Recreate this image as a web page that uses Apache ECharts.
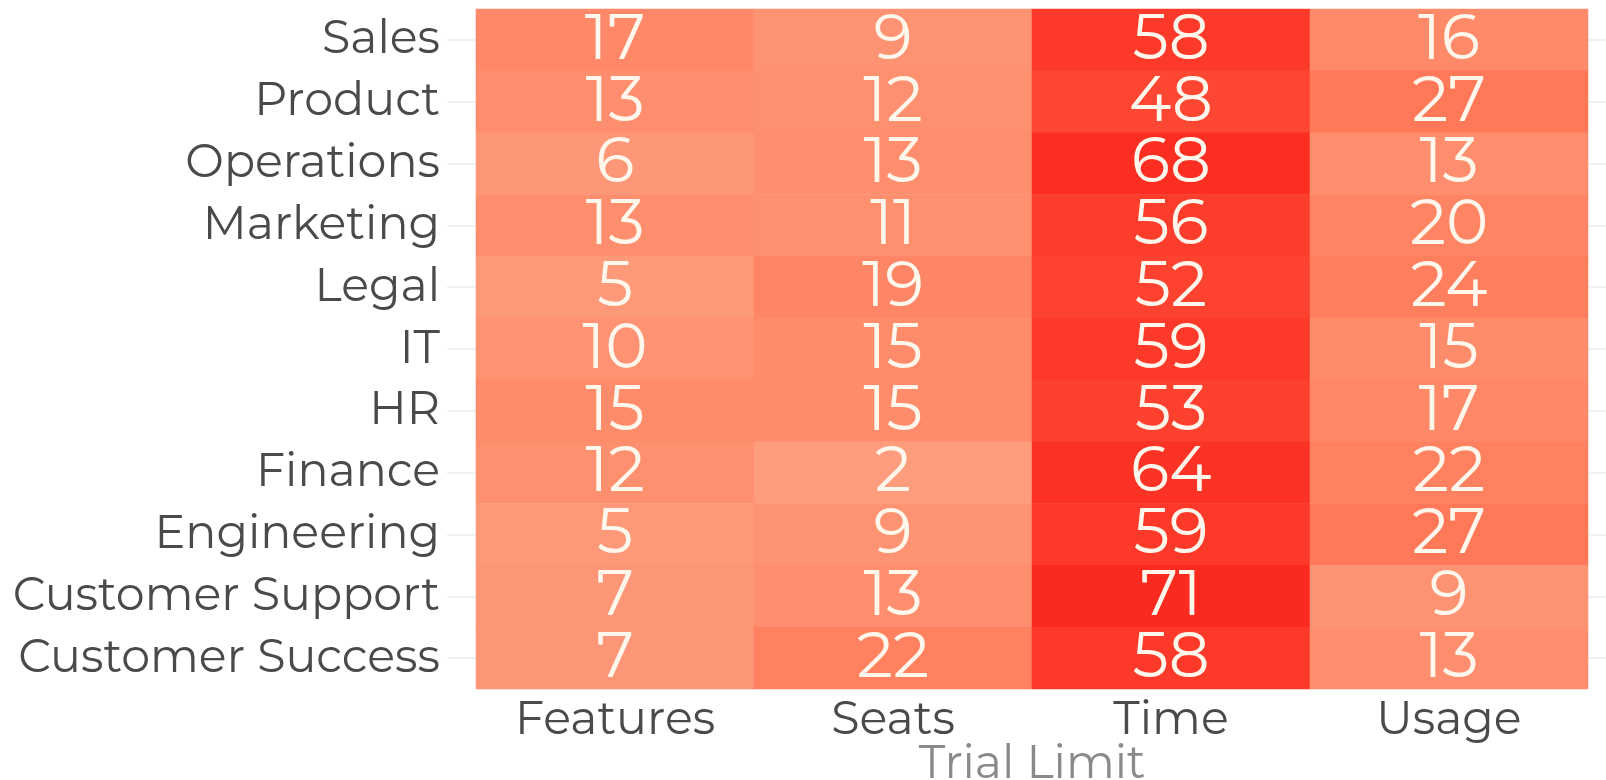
<!DOCTYPE html>
<html>
<head>
<meta charset="utf-8">
<title>Trial Limit by Department</title>
<script src="https://cdn.jsdelivr.net/npm/echarts@6/dist/echarts.min.js"></script>
<style>
  html, body { margin: 0; padding: 0; background: #ffffff; }
  #chart { width: 1606px; height: 780px; }
</style>
</head>
<body>
<div id="chart"></div>
<script>
// Departments, listed top to bottom
const departments = ['Sales', 'Product', 'Operations', 'Marketing', 'Legal', 'IT', 'HR',
  'Finance', 'Engineering', 'Customer Support', 'Customer Success'];
// Trial limit types
const limits = ['Features', 'Seats', 'Time', 'Usage'];

// Counts per limit type, in department order
const featuresCounts = [17, 13, 6, 13, 5, 10, 15, 12, 5, 7, 7];
const seatsCounts    = [9, 12, 13, 11, 19, 15, 15, 2, 9, 13, 22];
const timeCounts     = [58, 48, 68, 56, 52, 59, 53, 64, 59, 71, 58];
const usageCounts    = [16, 27, 13, 20, 24, 15, 17, 22, 27, 9, 13];

const columns = [featuresCounts, seatsCounts, timeCounts, usageCounts];
const cells = [];
columns.forEach((col, xi) => {
  col.forEach((v, yi) => cells.push([xi, yi, v]));
});
const all = cells.map(c => c[2]);

const FONT = "Montserrat, 'DejaVu Sans', sans-serif";

const chart = echarts.init(document.getElementById('chart'));
chart.setOption({
  backgroundColor: '#ffffff',
  animation: false,
  grid: { left: 476, right: 18, top: 9, bottom: 91, outerBoundsMode: 'none', containLabel: false },
  xAxis: {
    type: 'category',
    data: limits,
    name: 'Trial Limit',
    nameLocation: 'middle',
    nameGap: 52,
    nameMoveOverlap: false,
    nameTextStyle: { fontFamily: FONT, fontSize: 46, color: '#8a8a8a' },
    axisLine: { show: false },
    axisTick: { show: false },
    axisLabel: { fontFamily: FONT, fontSize: 46, color: '#4a4a4a', margin: 8 },
    splitLine: { show: false }
  },
  yAxis: [{
    type: 'category',
    data: departments,
    inverse: true,
    axisLine: { show: false },
    axisTick: { show: true, alignWithLabel: true, length: 29, lineStyle: { color: '#e9edf3', width: 1.5 } },
    axisLabel: { fontFamily: FONT, fontSize: 46, color: '#4a4a4a', margin: 36 },
    splitLine: { show: false }
  }, {
    type: 'category',
    data: departments,
    inverse: true,
    position: 'right',
    axisLine: { show: false },
    axisTick: { show: true, alignWithLabel: true, length: 18, lineStyle: { color: '#e9edf3', width: 1.5 } },
    axisLabel: { show: false },
    splitLine: { show: false }
  }],
  visualMap: {
    show: false,
    type: 'continuous',
    min: Math.min(...all),
    max: Math.max(...all),
    dimension: 2,
    inRange: { color: ['#fd9d7d', '#ff7d5c', '#fe4733', '#fb2a1e'] }
  },
  series: [{
    type: 'heatmap',
    data: cells,
    itemStyle: { borderWidth: 0 },
    label: {
      show: true,
      fontFamily: FONT,
      fontSize: 64,
      color: '#fff7ec',
      formatter: p => p.value[2]
    },
    emphasis: { disabled: true }
  }]
});
</script>
</body>
</html>
